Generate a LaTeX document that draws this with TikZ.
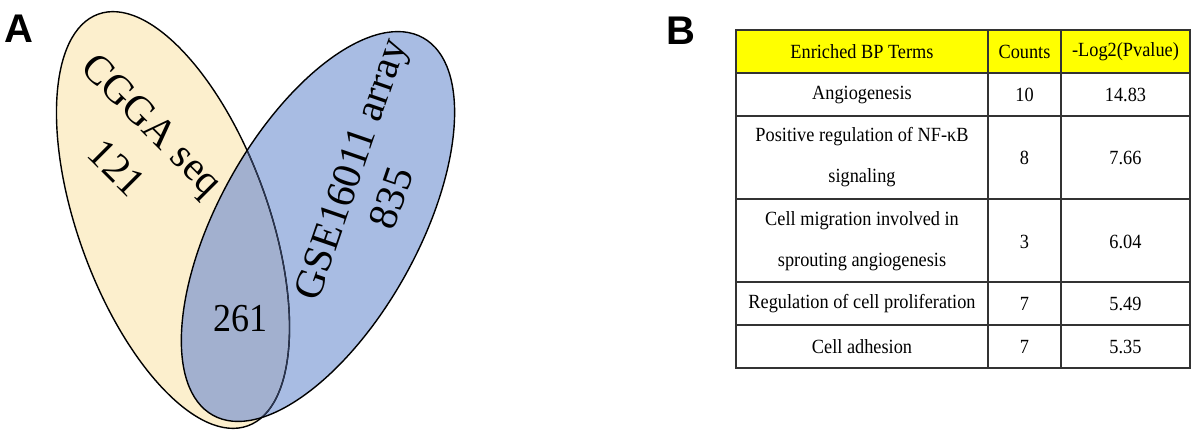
\documentclass[tikz,border=0pt]{standalone}
\usepackage{fontspec}
\setmainfont{Liberation Serif}
\newfontfamily\panelfont{Liberation Sans}
\definecolor{creamc}{HTML}{FCEFCD}
\definecolor{bluec}{HTML}{A8BCE3}
\definecolor{overlapc}{HTML}{A2B0CF}
\definecolor{navyc}{HTML}{2A3552}
\definecolor{headyellow}{HTML}{FFFF00}
\definecolor{gridc}{HTML}{333333}
\newcommand{\tall}[1]{\scalebox{1}[1.1]{#1}}
\begin{document}
\begin{tikzpicture}[x=1pt,y=-1pt,
  panel/.style={font=\panelfont\bfseries\fontsize{40}{40}\selectfont, inner sep=0pt},
  vennlabel/.style={font=\fontsize{41}{41}\selectfont, inner sep=0pt},
  cell/.style={font=\fontsize{18.3}{41}\selectfont, inner sep=0pt, align=center},
  tableline/.style={draw=gridc, line width=1.1pt},
  outline/.style={draw=black, line width=1.4pt}]
\useasboundingbox (0,0) rectangle (1200,434);
\fill[white] (0,0) rectangle (1200,434);

% ---------- Panel A: Venn ----------
\coordinate (yc) at (173,220);
\coordinate (bc) at (318,226.5);
\fill[creamc, rotate around={110:(yc)}] (yc) ellipse [x radius=219, y radius=95];
\fill[bluec, rotate around={60.9:(bc)}] (bc) ellipse [x radius=216, y radius=100];
\begin{scope}
  \clip[rotate around={110:(yc)}] (yc) ellipse [x radius=219, y radius=95];
  \fill[overlapc, rotate around={60.9:(bc)}] (bc) ellipse [x radius=216, y radius=100];
\end{scope}
\draw[outline, rotate around={110:(yc)}] (yc) ellipse [x radius=219, y radius=95];
\begin{scope}
  \clip[rotate around={60.9:(bc)}] (bc) ellipse [x radius=216, y radius=100];
  \draw[draw=navyc, line width=1.3pt, rotate around={110:(yc)}] (yc) ellipse [x radius=219, y radius=95];
\end{scope}
\draw[outline, rotate around={60.9:(bc)}] (bc) ellipse [x radius=216, y radius=100];

\node[vennlabel, rotate=-45] (cgga) at (150,127) {CGGA seq};
\node[vennlabel, rotate=-45] (n121) at (117,168) {121};
\node[vennlabel, rotate=71] (gse) at (354,170) {GSE16011 array};
\node[vennlabel, rotate=71] (n835) at (391,198) {835};
\node[vennlabel, font=\fontsize{36}{36}\selectfont] (n261) at (240,319) {\tall{261}};

\node[panel] (labA) at (19,29) {A};
\node[panel] (labB) at (681,31) {B};

% ---------- Panel B: table ----------
\fill[headyellow] (736,30) rectangle (1190,73);
\foreach \yy in {73,116,199,282,325} {
  \draw[tableline] (736,\yy) -- (1190,\yy);
}
\foreach \xx in {988,1061} {
  \draw[tableline] (\xx,30) -- (\xx,368);
}
\draw[tableline, line width=1.3pt] (736,30) rectangle (1190,368);

\node[cell] (h1) at (862,52) {\tall{Enriched BP Terms}};
\node[cell] (h2) at (1024.5,52) {\tall{Counts}};
\node[cell] (h3) at (1125.5,52) {\tall{-Log2(Pvalue)}};

\node[cell] (r1a) at (862,95) {\tall{Angiogenesis}};
\node[cell] (r1b) at (1024.5,95) {\tall{10}};
\node[cell] (r1c) at (1125.5,95) {\tall{14.83}};

\node[cell] (r2a) at (862,157.5) {\tall{Positive regulation of NF-κB}\\\tall{signaling}};
\node[cell] (r2b) at (1024.5,158) {\tall{8}};
\node[cell] (r2c) at (1125.5,158) {\tall{7.66}};

\node[cell] (r3a) at (862,241) {\tall{Cell migration involved in}\\\tall{sprouting angiogenesis}};
\node[cell] (r3b) at (1024.5,242) {\tall{3}};
\node[cell] (r3c) at (1125.5,242) {\tall{6.04}};

\node[cell] (r4a) at (862,304) {\tall{Regulation of cell proliferation}};
\node[cell] (r4b) at (1024.5,304) {\tall{7}};
\node[cell] (r4c) at (1125.5,304) {\tall{5.49}};

\node[cell] (r5a) at (862,347) {\tall{Cell adhesion}};
\node[cell] (r5b) at (1024.5,347) {\tall{7}};
\node[cell] (r5c) at (1125.5,347) {\tall{5.35}};
\end{tikzpicture}
\end{document}
